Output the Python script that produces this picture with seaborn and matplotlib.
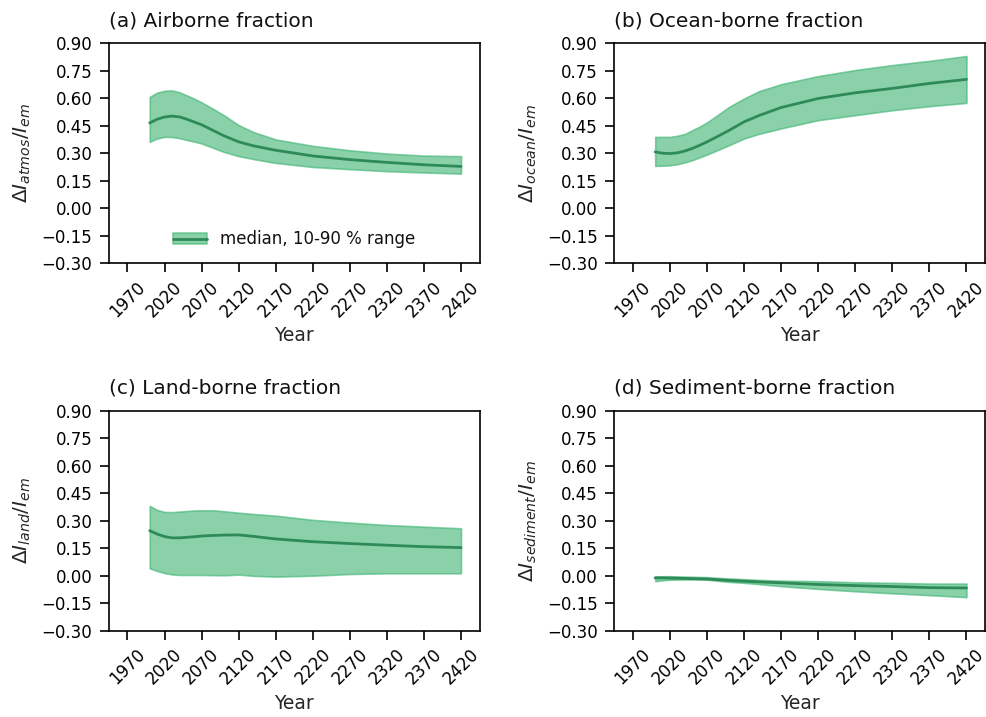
"""
Airborne / ocean / land / sediment fractions of emitted carbon, 2x2 panels.
"""

import matplotlib
matplotlib.use("Agg")
import matplotlib.pyplot as plt
import numpy as np
import pandas as pd
import seaborn as sns

# ---------------------------------------------------------------------------
# Data
# ---------------------------------------------------------------------------

years = [2000, 2010, 2020, 2030, 2040, 2050, 2060, 2070, 2085, 2100,
         2120, 2140, 2170, 2220, 2270, 2320, 2370, 2420]

atmos_median = [0.465, 0.485, 0.497, 0.502, 0.498, 0.485, 0.470, 0.455, 0.425, 0.395,
                0.362, 0.340, 0.316, 0.285, 0.265, 0.250, 0.237, 0.228]
atmos_p90 = [0.607, 0.630, 0.640, 0.642, 0.632, 0.615, 0.597, 0.577, 0.543, 0.507,
             0.453, 0.415, 0.375, 0.340, 0.316, 0.298, 0.287, 0.284]
atmos_p10 = [0.362, 0.380, 0.389, 0.388, 0.382, 0.372, 0.363, 0.353, 0.330, 0.307,
             0.284, 0.268, 0.247, 0.225, 0.213, 0.202, 0.195, 0.189]

ocean_median = [0.307, 0.300, 0.298, 0.302, 0.312, 0.326, 0.343, 0.362, 0.393, 0.425,
                0.471, 0.505, 0.549, 0.598, 0.629, 0.653, 0.680, 0.702]
ocean_p90 = [0.389, 0.389, 0.389, 0.395, 0.405, 0.425, 0.445, 0.468, 0.510, 0.553,
             0.598, 0.638, 0.676, 0.720, 0.753, 0.780, 0.803, 0.829]
ocean_p10 = [0.231, 0.232, 0.234, 0.240, 0.250, 0.262, 0.277, 0.293, 0.318, 0.344,
             0.380, 0.405, 0.435, 0.480, 0.507, 0.534, 0.556, 0.574]

land_median = [0.246, 0.228, 0.214, 0.207, 0.207, 0.210, 0.213, 0.217, 0.220, 0.222,
               0.223, 0.215, 0.201, 0.186, 0.176, 0.167, 0.159, 0.154]
land_p90 = [0.381, 0.359, 0.348, 0.347, 0.350, 0.353, 0.356, 0.357, 0.357, 0.352,
            0.344, 0.337, 0.328, 0.305, 0.290, 0.277, 0.268, 0.259]
land_p10 = [0.041, 0.027, 0.015, 0.008, 0.005, 0.005, 0.005, 0.005, 0.004, 0.003,
            0.007, 0.000, -0.004, 0.001, 0.010, 0.014, 0.014, 0.014]

sed_median = [-0.011, -0.011, -0.012, -0.013, -0.014, -0.015, -0.016, -0.017, -0.021, -0.025,
              -0.029, -0.033, -0.038, -0.047, -0.053, -0.058, -0.064, -0.066]
sed_p90 = [-0.003, -0.002, -0.002, -0.003, -0.004, -0.005, -0.006, -0.007, -0.011, -0.014,
           -0.018, -0.022, -0.026, -0.029, -0.035, -0.038, -0.042, -0.042]
sed_p10 = [-0.029, -0.024, -0.021, -0.020, -0.020, -0.020, -0.020, -0.021, -0.027, -0.033,
           -0.038, -0.045, -0.056, -0.071, -0.084, -0.095, -0.105, -0.116]

panel_titles = ["(a) Airborne fraction", "(b) Ocean-borne fraction",
                "(c) Land-borne fraction", "(d) Sediment-borne fraction"]
panel_ylabels = [r"$\Delta I_{atmos}/I_{em}$", r"$\Delta I_{ocean}/I_{em}$",
                 r"$\Delta I_{land}/I_{em}$", r"$\Delta I_{sediment}/I_{em}$"]
xtick_years = list(range(1970, 2421, 50))
ytick_values = [-0.30, -0.15, 0.00, 0.15, 0.30, 0.45, 0.60, 0.75, 0.90]

FILL_COLOR = "mediumseagreen"
LINE_COLOR = "seagreen"

# ---------------------------------------------------------------------------
# Style
# ---------------------------------------------------------------------------

sns.set_style("ticks")
plt.rcParams.update({
    "font.family": ["DejaVu Sans"],
    "axes.edgecolor": "black",
    "axes.linewidth": 1.2,
    "xtick.color": "black",
    "ytick.color": "black",
    "xtick.major.size": 6.5,
    "ytick.major.size": 6.5,
    "xtick.major.width": 1.2,
    "ytick.major.width": 1.2,
    "xtick.major.pad": 4,
    "ytick.major.pad": 5.5,
    "xtick.labelsize": 12,
    "ytick.labelsize": 12,
    "axes.labelsize": 13.5,
    "text.color": "#111111",
})

series = [
    (atmos_median, atmos_p10, atmos_p90),
    (ocean_median, ocean_p10, ocean_p90),
    (land_median, land_p10, land_p90),
    (sed_median, sed_p10, sed_p90),
]

fig, axes = plt.subplots(2, 2, figsize=(9.86, 7.17), dpi=100)
fig.subplots_adjust(left=0.1105, right=0.999, top=0.94, bottom=0.12,
                    wspace=0.364, hspace=0.668)

for i, ax in enumerate(axes.flat):
    med, lo, hi = series[i]
    df = pd.DataFrame({"year": years, "median": med, "p10": lo, "p90": hi})

    band = ax.fill_between(df["year"], df["p10"], df["p90"],
                           facecolor=FILL_COLOR, edgecolor=FILL_COLOR,
                           alpha=0.6, linewidth=1.2)
    sns.lineplot(data=df, x="year", y="median", ax=ax,
                 color=LINE_COLOR, linewidth=2)
    line = ax.get_lines()[-1]

    ax.set_xlim(1945, 2445)
    ax.set_ylim(-0.30, 0.90)
    ax.set_xticks(xtick_years)
    ax.set_yticks(ytick_values)
    ax.set_yticklabels([f"{v:.2f}".replace("-", "\u2212") for v in ytick_values])
    ax.tick_params(axis="x", rotation=45)
    ax.set_xlabel("Year")
    ax.set_ylabel(panel_ylabels[i], fontsize=14.5, labelpad=6)
    ax.set_title(panel_titles[i], loc="left", fontsize=14.5, pad=12)

    if i == 0:
        ax.legend([(band, line)], ["median, 10-90 % range"],
                  loc="lower center", frameon=False, fontsize=12)

fig.savefig("out.png", dpi=100)
plt.close(fig)
